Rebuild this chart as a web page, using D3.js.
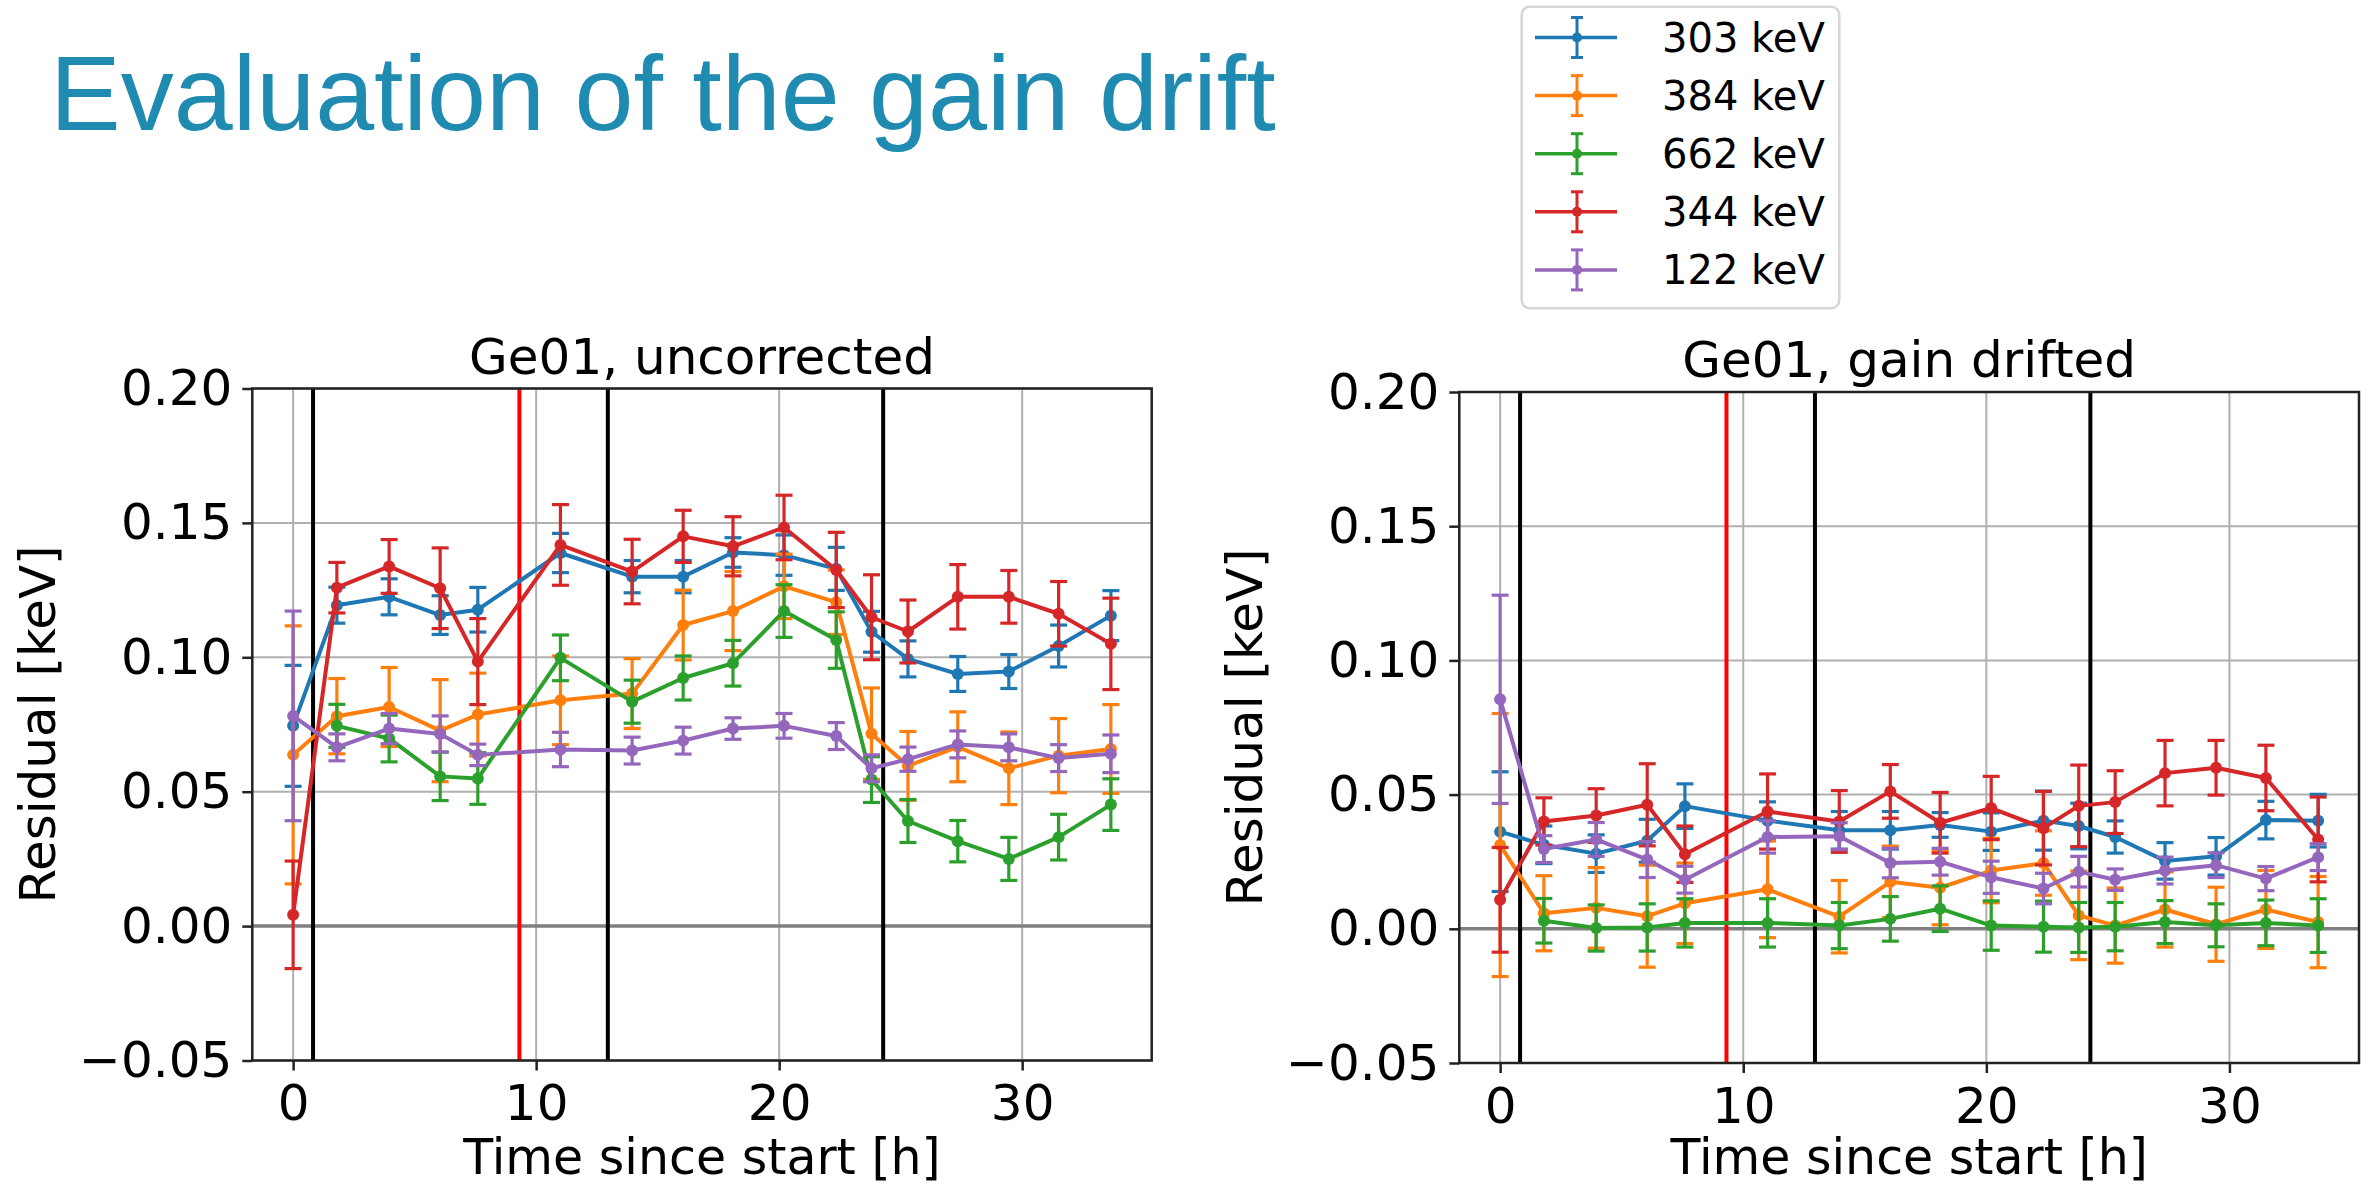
<!DOCTYPE html>
<html>
<head>
<meta charset="utf-8">
<script src="https://cdn.jsdelivr.net/npm/d3@7"></script>
<style>
  html, body { margin: 0; padding: 0; background: #fff; }
  svg { display: block; }
</style>
</head>
<body>
<script>
// ---------------- DATA ----------------
const times = [0, 1.8, 3.95, 6.05, 7.6, 11.0, 13.95, 16.05, 18.1, 20.2, 22.35, 23.8, 25.3, 27.35, 29.45, 31.5, 33.65];

const seriesLabels = ["303 keV", "384 keV", "662 keV", "344 keV", "122 keV"];
const seriesColors = ["#1f77b4", "#ff7f0e", "#2ca02c", "#d62728", "#9467bd"];

// Panel 1: uncorrected
const unc303 = [0.0745, 0.1194, 0.1225, 0.1157, 0.1177, 0.1388, 0.130, 0.130, 0.139, 0.138, 0.1329, 0.1095, 0.0994, 0.0938, 0.0947, 0.1042, 0.1155];
const unc303Err = [0.0225, 0.0067, 0.0067, 0.0072, 0.0083, 0.0073, 0.006, 0.006, 0.0055, 0.0075, 0.008, 0.0076, 0.0067, 0.0065, 0.0063, 0.0078, 0.0093];
const unc384 = [0.0637, 0.0781, 0.0815, 0.0727, 0.0787, 0.084, 0.0865, 0.112, 0.1172, 0.1264, 0.1205, 0.0716, 0.0596, 0.0667, 0.0587, 0.0634, 0.0659];
const unc384Err = [0.048, 0.014, 0.0147, 0.019, 0.0154, 0.0165, 0.013, 0.013, 0.0147, 0.012, 0.012, 0.017, 0.0128, 0.013, 0.0135, 0.0138, 0.0165];
const unc662 = [null, 0.0745, 0.0698, 0.0557, 0.0549, 0.0998, 0.0835, 0.0923, 0.0978, 0.1172, 0.1064, 0.0545, 0.0391, 0.0316, 0.025, 0.0331, 0.0452];
const unc662Err = [null, 0.008, 0.0087, 0.009, 0.0096, 0.0085, 0.008, 0.0082, 0.0085, 0.0098, 0.0105, 0.0085, 0.008, 0.0077, 0.008, 0.0085, 0.0096];
const unc344 = [0.0042, 0.1259, 0.1338, 0.1257, 0.0984, 0.1418, 0.1319, 0.145, 0.1413, 0.1483, 0.1325, 0.1149, 0.1096, 0.1225, 0.1225, 0.1162, 0.105];
const unc344Err = [0.020, 0.0094, 0.010, 0.015, 0.016, 0.015, 0.012, 0.0097, 0.011, 0.012, 0.014, 0.0158, 0.0117, 0.012, 0.0098, 0.012, 0.017];
const unc122 = [0.0782, 0.0665, 0.0735, 0.0715, 0.0637, 0.0657, 0.0653, 0.069, 0.0735, 0.0745, 0.0707, 0.0587, 0.0621, 0.0676, 0.0665, 0.0625, 0.0641];
const unc122Err = [0.039, 0.005, 0.0056, 0.0067, 0.004, 0.0064, 0.005, 0.005, 0.004, 0.0046, 0.005, 0.005, 0.0045, 0.005, 0.005, 0.005, 0.007];

// Panel 2: gain drifted
const gd303 = [0.0362, 0.0313, 0.028, 0.0328, 0.0457, 0.0403, 0.0367, 0.0367, 0.0387, 0.0362, 0.0403, 0.0383, 0.0342, 0.0253, 0.027, 0.0405, 0.0403];
const gd303Err = [0.0223, 0.007, 0.007, 0.008, 0.0083, 0.007, 0.007, 0.007, 0.0046, 0.007, 0.011, 0.0085, 0.006, 0.0068, 0.007, 0.007, 0.0098];
const gd384 = [0.0312, 0.0058, 0.0078, 0.0047, 0.0095, 0.0147, 0.0045, 0.0175, 0.0153, 0.0217, 0.0245, 0.005, 0.0012, 0.0072, 0.0017, 0.0072, 0.0025];
const gd384Err = [0.049, 0.014, 0.015, 0.019, 0.015, 0.018, 0.0135, 0.0133, 0.0138, 0.012, 0.012, 0.0165, 0.014, 0.014, 0.0138, 0.0145, 0.017];
const gd662 = [null, 0.003, 0.0003, 0.0005, 0.0022, 0.0022, 0.0012, 0.0037, 0.0075, 0.0012, 0.0008, 0.0005, 0.0008, 0.0025, 0.0013, 0.0022, 0.0012];
const gd662Err = [null, 0.0083, 0.0086, 0.0088, 0.009, 0.009, 0.0086, 0.0083, 0.0085, 0.0092, 0.0095, 0.0093, 0.009, 0.008, 0.008, 0.0085, 0.01];
const gd344 = [0.0108, 0.04, 0.0422, 0.0462, 0.0278, 0.0437, 0.04, 0.0512, 0.0395, 0.045, 0.0375, 0.0458, 0.0472, 0.058, 0.06, 0.0562, 0.0333];
const gd344Err = [0.0195, 0.0088, 0.01, 0.0153, 0.0105, 0.014, 0.0115, 0.01, 0.0113, 0.0118, 0.0137, 0.0152, 0.0117, 0.0122, 0.0102, 0.0122, 0.0158];
const gd122 = [0.0855, 0.0297, 0.0333, 0.0258, 0.0183, 0.0342, 0.0345, 0.0245, 0.025, 0.0192, 0.015, 0.0213, 0.0183, 0.0217, 0.0237, 0.0187, 0.0267];
const gd122Err = [0.0388, 0.005, 0.0063, 0.0067, 0.005, 0.006, 0.005, 0.0055, 0.005, 0.006, 0.0057, 0.0057, 0.004, 0.005, 0.0046, 0.0045, 0.005];

const blackLines = [0.82, 12.95, 24.28];
const redLines = [9.31];
const xTicks = [0, 10, 20, 30];
const yTicks = [-0.05, 0.00, 0.05, 0.10, 0.15, 0.20];
const xDomain = [-1.68, 35.33];
const yDomain = [-0.05, 0.20];

const mainTitle = "Evaluation of the gain drift";
const panelTitles = ["Ge01, uncorrected", "Ge01, gain drifted"];
const xLabel = "Time since start [h]";
const yLabel = "Residual [keV]";

// ---------------- LAYOUT ----------------
const W = 2371, H = 1187;
const FONT = "DejaVu Sans";
const layouts = [
  { left: 252.3, right: 1151.7, top: 388.5, bottom: 1060.5, ylabX: 55 },
  { left: 1459.3, right: 2359, top: 392, bottom: 1063, ylabX: 1262 }
];

const panelSeries = [
  [[unc303, unc303Err], [unc384, unc384Err], [unc662, unc662Err], [unc344, unc344Err], [unc122, unc122Err]],
  [[gd303, gd303Err], [gd384, gd384Err], [gd662, gd662Err], [gd344, gd344Err], [gd122, gd122Err]]
];

const svg = d3.select("body").append("svg").attr("width", W).attr("height", H);
svg.append("rect").attr("width", W).attr("height", H).attr("fill", "#fff");

// main title
svg.append("text")
  .attr("x", 50).attr("y", 130)
  .attr("font-family", "Liberation Sans, Arial, sans-serif")
  .attr("font-size", 106)
  .attr("fill", "#1f8bb0")
  .text(mainTitle);

function drawPanel(idx) {
  const L = layouts[idx];
  const g = svg.append("g");
  const x = d3.scaleLinear().domain(xDomain).range([L.left, L.right]);
  const y = d3.scaleLinear().domain(yDomain).range([L.bottom, L.top]);

  // grid
  g.append("g").selectAll("line").data(xTicks).join("line")
    .attr("x1", d => x(d)).attr("x2", d => x(d))
    .attr("y1", L.top).attr("y2", L.bottom)
    .attr("stroke", "#b0b0b0").attr("stroke-width", 2);
  g.append("g").selectAll("line").data(yTicks).join("line")
    .attr("x1", L.left).attr("x2", L.right)
    .attr("y1", d => y(d)).attr("y2", d => y(d))
    .attr("stroke", "#b0b0b0").attr("stroke-width", 2);

  // zero line
  g.append("line")
    .attr("x1", L.left).attr("x2", L.right)
    .attr("y1", y(0)).attr("y2", y(0))
    .attr("stroke", "#808080").attr("stroke-width", 3.5);

  // vertical markers
  g.append("g").selectAll("line").data(blackLines).join("line")
    .attr("x1", d => x(d)).attr("x2", d => x(d))
    .attr("y1", L.top).attr("y2", L.bottom)
    .attr("stroke", "#000").attr("stroke-width", 4);
  g.append("g").selectAll("line").data(redLines).join("line")
    .attr("x1", d => x(d)).attr("x2", d => x(d))
    .attr("y1", L.top).attr("y2", L.bottom)
    .attr("stroke", "#ff0000").attr("stroke-width", 4);

  // series
  const lineGen = d3.line().defined(d => d.v != null).x(d => x(d.t)).y(d => y(d.v));
  panelSeries[idx].forEach((pair, si) => {
    const col = seriesColors[si];
    const pts = times.map((t, i) => ({ t, v: pair[0][i], e: pair[1][i] }));
    const valid = pts.filter(d => d.v != null);
    const sg = g.append("g");
    sg.append("path").datum(pts).attr("d", lineGen)
      .attr("fill", "none").attr("stroke", col).attr("stroke-width", 4)
      .attr("stroke-linejoin", "round");
    sg.selectAll(".eb").data(valid).join("line")
      .attr("x1", d => x(d.t)).attr("x2", d => x(d.t))
      .attr("y1", d => y(d.v - d.e)).attr("y2", d => y(d.v + d.e))
      .attr("stroke", col).attr("stroke-width", 3.2);
    sg.selectAll(".cl").data(valid).join("line")
      .attr("x1", d => x(d.t) - 8.5).attr("x2", d => x(d.t) + 8.5)
      .attr("y1", d => y(d.v - d.e)).attr("y2", d => y(d.v - d.e))
      .attr("stroke", col).attr("stroke-width", 3.2);
    sg.selectAll(".ch").data(valid).join("line")
      .attr("x1", d => x(d.t) - 8.5).attr("x2", d => x(d.t) + 8.5)
      .attr("y1", d => y(d.v + d.e)).attr("y2", d => y(d.v + d.e))
      .attr("stroke", col).attr("stroke-width", 3.2);
    sg.selectAll("circle").data(valid).join("circle")
      .attr("cx", d => x(d.t)).attr("cy", d => y(d.v)).attr("r", 6)
      .attr("fill", col);
  });

  // frame
  g.append("rect")
    .attr("x", L.left).attr("y", L.top)
    .attr("width", L.right - L.left).attr("height", L.bottom - L.top)
    .attr("fill", "none").attr("stroke", "#222").attr("stroke-width", 2.5);

  // axes
  const ay = g.append("g").attr("transform", `translate(${L.left},0)`)
    .call(d3.axisLeft(y).tickValues(yTicks).tickFormat(d3.format(".2f")).tickSize(10).tickPadding(10));
  const ax = g.append("g").attr("transform", `translate(0,${L.bottom})`)
    .call(d3.axisBottom(x).tickValues(xTicks).tickFormat(d3.format("d")).tickSize(10).tickPadding(14));
  [ay, ax].forEach(a => {
    a.attr("font-size", 50).attr("font-family", FONT);
    a.select(".domain").remove();
    a.selectAll(".tick line").attr("stroke", "#222").attr("stroke-width", 2.5);
    a.selectAll(".tick text").attr("fill", "#000");
  });

  // panel title
  g.append("text")
    .attr("x", (L.left + L.right) / 2).attr("y", L.top - 15)
    .attr("text-anchor", "middle")
    .attr("font-family", FONT).attr("font-size", 50).attr("fill", "#000")
    .text(panelTitles[idx]);

  // x label
  g.append("text")
    .attr("x", (L.left + L.right) / 2).attr("y", 1174)
    .attr("text-anchor", "middle")
    .attr("font-family", FONT).attr("font-size", 49).attr("fill", "#000")
    .text(xLabel);

  // y label
  const cy = (L.top + L.bottom) / 2;
  g.append("text")
    .attr("transform", `translate(${L.ylabX},${cy}) rotate(-90)`)
    .attr("text-anchor", "middle")
    .attr("font-family", FONT).attr("font-size", 50).attr("fill", "#000")
    .text(yLabel);
}

drawPanel(0);
drawPanel(1);

// legend
const lg = svg.append("g");
lg.append("rect")
  .attr("x", 1521.7).attr("y", 6.7).attr("width", 317.6).attr("height", 301.6)
  .attr("rx", 8).attr("ry", 8)
  .attr("fill", "#fff").attr("stroke", "#d6d6d6").attr("stroke-width", 2.5);
const rowY = i => 37.5 + i * 58.1;
const entries = lg.selectAll(".entry").data(seriesLabels).join("g")
  .attr("transform", (d, i) => `translate(0,${rowY(i)})`);
entries.append("line").attr("x1", 1535).attr("x2", 1617).attr("y1", 0).attr("y2", 0)
  .attr("stroke", (d, i) => seriesColors[i]).attr("stroke-width", 3.5);
entries.append("line").attr("x1", 1577).attr("x2", 1577).attr("y1", -20).attr("y2", 20)
  .attr("stroke", (d, i) => seriesColors[i]).attr("stroke-width", 3);
entries.append("line").attr("x1", 1571).attr("x2", 1583).attr("y1", -20).attr("y2", -20)
  .attr("stroke", (d, i) => seriesColors[i]).attr("stroke-width", 3);
entries.append("line").attr("x1", 1571).attr("x2", 1583).attr("y1", 20).attr("y2", 20)
  .attr("stroke", (d, i) => seriesColors[i]).attr("stroke-width", 3);
entries.append("circle").attr("cx", 1577).attr("cy", 0).attr("r", 5)
  .attr("fill", (d, i) => seriesColors[i]);
entries.append("text").attr("x", 1662).attr("y", 14)
  .attr("font-family", FONT).attr("font-size", 40).attr("fill", "#000")
  .text(d => d);
</script>
</body>
</html>
